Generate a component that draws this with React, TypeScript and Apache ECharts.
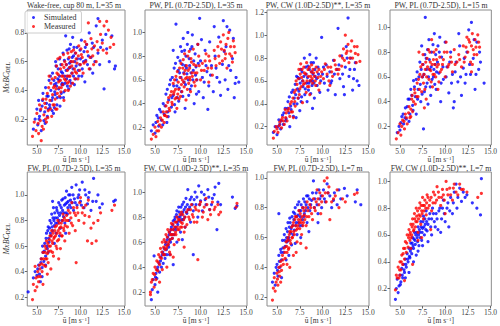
import React, { useEffect, useRef } from "react";
import * as echarts from "echarts";

const titles = [
  "Wake-free, cup 80 m, L=35 m",
  "PW, PL (0.7D-2.5D), L=35 m",
  "PW, CW (1.0D-2.5D)**, L=35 m",
  "PW, PL (0.7D-2.5D), L=15 m",
  "FW, PL (0.7D-2.5D), L=35 m",
  "FW, CW (1.0D-2.5D)**, L=35 m",
  "FW, PL (0.7D-2.5D), L=7 m",
  "FW, CW (1.0D-2.5D)**, L=7 m",
];

const xTicks = [5, 7.5, 10, 12.5, 15];
const yTicks = [
  [0.2, 0.4, 0.6, 0.8],
  [0.2, 0.4, 0.6, 0.8, 1.0],
  [0.2, 0.4, 0.6, 0.8, 1.0, 1.2],
  [0.2, 0.4, 0.6, 0.8, 1.0],
  [0.2, 0.4, 0.6, 0.8, 1.0],
  [0.2, 0.4, 0.6, 0.8, 1.0],
  [0.2, 0.4, 0.6, 0.8, 1.0],
  [0.2, 0.4, 0.6, 0.8, 1.0],
];
const yMin = [0.02, 0.05, 0.04, 0.05, 0.13, 0.09, 0.14, 0.07];
const yMax = [0.96, 1.19, 1.22, 1.14, 1.18, 1.16, 1.04, 1.07];

const sim1 = [[4.6,0.13],[4.8,0.2],[5.0,0.27],[5.1,0.16],[5.2,0.33],[5.3,0.22],[5.5,0.12],[5.6,0.29],[5.7,0.38],[5.8,0.19],[5.9,0.25],[6.0,0.42],[6.1,0.31],[6.2,0.22],[6.3,0.36],[6.4,0.47],[6.5,0.28],[6.6,0.4],[6.7,0.33],[6.8,0.52],[6.9,0.24],[7.0,0.44],[7.1,0.37],[7.2,0.57],[7.3,0.3],[7.4,0.48],[7.5,0.41],[7.6,0.62],[7.7,0.35],[7.8,0.53],[7.9,0.45],[8.0,0.66],[8.1,0.39],[8.2,0.5],[8.3,0.78],[8.4,0.58],[8.5,0.43],[8.6,0.55],[8.7,0.69],[8.8,0.47],[8.9,0.6],[9.0,0.52],[9.1,0.77],[9.2,0.64],[9.3,0.44],[9.5,0.57],[9.6,0.7],[9.8,0.5],[10.0,0.62],[10.1,0.75],[10.2,0.55],[10.4,0.67],[10.5,0.46],[10.7,0.72],[10.8,0.58],[11.0,0.8],[11.2,0.63],[11.4,0.52],[11.5,0.7],[11.8,0.85],[12.0,0.66],[12.2,0.58],[12.5,0.75],[12.7,0.41],[13.0,0.69],[13.3,0.6],[13.6,0.78],[13.9,0.55],[14.0,0.57],[12.0,0.9],[6.8,0.35],[7.2,0.45],[7.6,0.5],[8.0,0.44],[8.4,0.48],[8.8,0.56],[9.2,0.5],[7.0,0.28],[7.8,0.38],[8.6,0.62],[9.4,0.66],[6.3,0.27],[5.4,0.26],[9.9,0.58],[10.6,0.61],
[5.25,0.2],[5.65,0.33],[5.95,0.17],[6.15,0.36],[6.45,0.3],[6.55,0.5],[6.75,0.26],[6.95,0.47],[7.05,0.39],[7.15,0.6],[7.25,0.43],[7.35,0.35],[7.45,0.55],[7.55,0.47],[7.65,0.29],[7.75,0.58],[7.85,0.44],[7.95,0.52],[8.05,0.35],[8.15,0.61],[8.25,0.45],[8.35,0.54],[8.45,0.68],[8.55,0.5],[8.65,0.41],[8.75,0.59],[8.85,0.72],[8.95,0.45],[9.05,0.63],[9.15,0.55],[9.25,0.7],[9.35,0.6],[9.45,0.48],[9.65,0.62],[9.75,0.54],[9.95,0.68],[10.15,0.5],[10.35,0.6],[10.55,0.7],[10.9,0.64],[11.1,0.55],[11.35,0.73],[11.65,0.6],[12.3,0.7],[12.9,0.79]];
const meas1 = [[4.5,0.08],[4.7,0.18],[4.9,0.12],[5.0,0.24],[5.2,0.1],[5.3,0.3],[5.4,0.19],[5.6,0.15],[5.7,0.34],[5.8,0.23],[6.0,0.28],[6.1,0.18],[6.2,0.38],[6.3,0.26],[6.5,0.33],[6.6,0.45],[6.7,0.22],[6.8,0.37],[7.0,0.3],[7.1,0.49],[7.2,0.41],[7.3,0.27],[7.5,0.46],[7.6,0.36],[7.7,0.55],[7.8,0.42],[8.0,0.5],[8.1,0.33],[8.2,0.6],[8.3,0.47],[8.5,0.54],[8.6,0.4],[8.7,0.63],[8.8,0.5],[9.0,0.57],[9.1,0.45],[9.2,0.68],[9.4,0.53],[9.5,0.62],[9.7,0.48],[9.8,0.71],[10.0,0.58],[10.1,0.65],[10.3,0.52],[10.5,0.74],[10.6,0.6],[10.8,0.67],[11.0,0.55],[11.2,0.76],[11.4,0.64],[11.6,0.71],[11.8,0.6],[12.0,0.68],[12.3,0.79],[12.5,0.73],[12.7,0.85],[13.0,0.66],[13.2,0.82],[13.5,0.77],[13.8,0.72],[12.2,0.88],[10.9,0.87],[7.4,0.62],[6.4,0.5],[5.5,0.05],[6.9,0.42],[7.3,0.52],[7.7,0.47],[8.1,0.56],[8.5,0.45],[8.9,0.6],[9.3,0.55],[7.1,0.34],[7.9,0.58],[8.7,0.5],[9.6,0.59],[6.0,0.2],[5.9,0.31],[10.2,0.63],[11.3,0.69],
[5.15,0.17],[5.45,0.27],[5.75,0.13],[6.05,0.34],[6.25,0.21],[6.35,0.42],[6.55,0.27],[6.75,0.48],[6.85,0.3],[7.05,0.43],[7.15,0.27],[7.25,0.57],[7.35,0.38],[7.45,0.51],[7.55,0.42],[7.65,0.63],[7.75,0.39],[7.85,0.5],[7.95,0.44],[8.05,0.65],[8.15,0.48],[8.25,0.4],[8.35,0.58],[8.45,0.5],[8.55,0.66],[8.65,0.46],[8.75,0.56],[8.85,0.43],[8.95,0.67],[9.05,0.52],[9.15,0.6],[9.35,0.48],[9.45,0.66],[9.55,0.52],[9.75,0.64],[9.9,0.54],[10.05,0.69],[10.4,0.59],[10.7,0.72],[11.1,0.63],[11.5,0.58],[11.9,0.74],[12.6,0.68],[13.4,0.7],[13.0,0.88]];

const sim2 = [[4.6,0.17],[4.8,0.22],[5.0,0.15],[5.2,0.3],[5.4,0.21],[5.5,0.35],[5.7,0.26],[5.9,0.4],[6.0,0.31],[6.2,0.48],[6.3,0.24],[6.5,0.43],[6.6,0.56],[6.8,0.37],[6.9,0.62],[7.0,0.47],[7.1,0.7],[7.2,0.33],[7.3,1.07],[7.4,0.55],[7.5,0.79],[7.6,0.42],[7.7,0.66],[7.8,0.88],[7.9,0.5],[8.0,0.73],[8.1,0.95],[8.2,0.58],[8.3,0.36],[8.4,0.8],[8.5,0.65],[8.6,1.0],[8.7,0.47],[8.8,0.72],[8.9,0.86],[9.0,0.55],[9.1,0.98],[9.2,0.68],[9.3,0.4],[9.4,0.82],[9.6,0.6],[9.7,0.9],[9.8,0.5],[10.0,0.76],[10.2,0.62],[10.3,0.45],[10.5,0.85],[10.7,0.67],[10.9,0.55],[11.0,0.92],[11.2,0.72],[11.4,0.5],[11.6,0.8],[11.8,0.62],[12.0,0.96],[12.2,0.47],[12.4,0.73],[12.5,1.1],[12.7,0.6],[12.8,0.88],[13.0,0.52],[13.2,1.02],[13.3,0.68],[13.5,0.78],[13.7,0.45],[13.9,0.62],[14.2,0.58],[12.9,1.05],[11.5,1.05],[9.9,1.12],[7.0,0.85],[8.3,0.72],[9.5,0.71],[6.4,0.33],[10.8,0.35],
[5.1,0.24],[5.35,0.28],[5.65,0.33],[5.85,0.22],[6.1,0.38],[6.35,0.52],[6.45,0.29],[6.7,0.6],[6.85,0.45],[7.05,0.55],[7.15,0.39],[7.25,0.74],[7.35,0.6],[7.45,0.45],[7.55,0.68],[7.65,0.53],[7.75,0.76],[7.85,0.62],[7.95,0.84],[8.05,0.46],[8.15,0.66],[8.25,0.85],[8.35,0.56],[8.45,0.7],[8.55,0.9],[8.65,0.6],[8.75,0.78],[8.85,0.52],[8.95,0.66],[9.05,0.88],[9.15,0.6],[9.25,0.76],[9.45,0.64],[9.55,0.48],[9.75,0.74],[10.1,0.94],[10.4,0.58],[10.6,0.72],[11.1,0.64],[11.7,0.7],[12.1,0.58],[12.6,0.84],[13.1,0.72],[13.6,0.95],[13.8,0.57]];
const meas2 = [[4.6,0.1],[4.8,0.14],[5.0,0.2],[5.1,0.12],[5.3,0.25],[5.4,0.17],[5.6,0.28],[5.7,0.2],[5.9,0.33],[6.0,0.24],[6.2,0.38],[6.3,0.29],[6.5,0.45],[6.6,0.34],[6.8,0.5],[6.9,0.39],[7.0,0.57],[7.2,0.44],[7.3,0.63],[7.4,0.36],[7.6,0.52],[7.7,0.7],[7.8,0.46],[8.0,0.6],[8.1,0.77],[8.2,0.54],[8.3,0.68],[8.4,0.43],[8.5,0.62],[8.6,0.8],[8.7,0.57],[8.8,0.7],[8.9,0.5],[9.0,0.75],[9.1,0.63],[9.2,0.86],[9.3,0.58],[9.5,0.72],[9.6,0.66],[9.8,0.8],[10.0,0.6],[10.2,0.74],[10.4,0.68],[10.6,0.82],[10.8,0.7],[11.0,0.76],[11.3,0.64],[11.5,0.85],[11.7,0.72],[12.0,0.8],[12.2,0.92],[12.4,0.76],[12.5,0.98],[12.6,0.85],[12.8,0.9],[12.9,0.7],[13.0,0.95],[13.2,0.82],[13.3,0.88],[13.5,0.75],[13.6,0.93],[13.8,0.83],[12.7,0.78],[13.1,1.0],[7.5,0.48],[8.2,0.65],[7.9,0.56],[8.8,0.62],[9.4,0.55],[6.1,0.3],[7.1,0.5],[9.7,0.9],[10.9,0.58],
[5.2,0.17],[5.5,0.22],[5.8,0.26],[6.05,0.3],[6.25,0.33],[6.4,0.41],[6.55,0.36],[6.7,0.47],[6.85,0.41],[7.05,0.48],[7.15,0.6],[7.25,0.52],[7.35,0.45],[7.45,0.67],[7.55,0.58],[7.65,0.44],[7.75,0.62],[7.85,0.74],[7.95,0.5],[8.05,0.7],[8.15,0.58],[8.25,0.82],[8.35,0.61],[8.45,0.72],[8.55,0.52],[8.65,0.68],[8.75,0.84],[8.85,0.6],[8.95,0.78],[9.05,0.66],[9.25,0.73],[9.35,0.66],[9.55,0.6],[9.85,0.72],[10.1,0.68],[10.5,0.76],[10.9,0.8],[11.2,0.7],[11.6,0.78],[11.9,0.88],[12.1,0.74],[12.3,0.86],[12.75,0.82],[13.4,0.8],[13.7,0.88]];

const sim3 = [[4.6,0.15],[4.8,0.2],[5.0,0.13],[5.2,0.26],[5.4,0.18],[5.6,0.3],[5.7,0.22],[5.9,0.36],[6.0,0.27],[6.2,0.42],[6.3,0.32],[6.5,0.38],[6.6,0.5],[6.8,0.29],[6.9,0.45],[7.0,0.57],[7.2,0.4],[7.3,0.63],[7.4,0.51],[7.5,0.34],[7.6,0.7],[7.7,0.46],[7.8,0.6],[8.0,0.8],[8.1,0.53],[8.2,0.66],[8.3,0.42],[8.4,0.73],[8.5,0.58],[8.6,0.83],[8.7,0.49],[8.8,0.68],[8.9,0.6],[9.0,0.76],[9.1,0.45],[9.2,0.64],[9.4,0.56],[9.5,0.72],[9.7,0.5],[9.9,0.98],[10.0,0.66],[10.2,0.58],[10.4,0.74],[10.6,0.52],[10.8,0.68],[11.0,0.6],[11.2,0.78],[11.4,0.48],[11.6,0.7],[11.7,1.06],[11.9,0.62],[12.1,0.82],[12.3,0.55],[12.5,0.72],[12.8,1.15],[12.9,0.64],[13.1,0.8],[13.3,0.52],[13.5,0.7],[13.8,0.6],[14.0,0.56],[12.6,0.9],[7.1,0.28],[8.9,0.36],[5.3,0.22],[6.4,0.2],[9.3,0.8],
[5.1,0.2],[5.45,0.25],[5.75,0.32],[5.95,0.25],[6.15,0.36],[6.35,0.46],[6.55,0.35],[6.75,0.52],[6.85,0.4],[7.05,0.48],[7.15,0.64],[7.25,0.53],[7.35,0.45],[7.45,0.62],[7.55,0.58],[7.65,0.42],[7.75,0.68],[7.85,0.55],[7.95,0.64],[8.05,0.48],[8.15,0.72],[8.25,0.58],[8.35,0.63],[8.45,0.52],[8.55,0.7],[8.65,0.6],[8.75,0.76],[8.85,0.56],[8.95,0.66],[9.05,0.58],[9.15,0.7],[9.35,0.62],[9.55,0.66],[9.8,0.6],[10.1,0.72],[10.5,0.64],[10.9,0.58],[11.3,0.66],[11.8,0.74],[12.2,0.66],[12.7,0.8],[13.0,0.7],[13.4,0.62],[13.6,0.76],[12.4,0.48]];
const meas3 = [[4.6,0.1],[4.7,0.16],[4.9,0.2],[5.1,0.15],[5.3,0.24],[5.5,0.19],[5.6,0.28],[5.8,0.22],[6.0,0.32],[6.1,0.25],[6.3,0.36],[6.4,0.29],[6.6,0.42],[6.7,0.33],[6.9,0.5],[7.0,0.38],[7.1,0.6],[7.3,0.45],[7.4,0.7],[7.5,0.53],[7.7,0.63],[7.8,0.41],[7.9,0.57],[8.0,0.67],[8.2,0.5],[8.3,0.6],[8.4,0.7],[8.5,0.55],[8.7,0.64],[8.8,0.74],[8.9,0.58],[9.0,0.67],[9.2,0.6],[9.3,0.72],[9.5,0.63],[9.7,0.58],[9.9,0.68],[10.1,0.62],[10.3,0.75],[10.5,0.66],[10.7,0.6],[10.9,0.72],[11.1,0.64],[11.3,0.78],[11.5,0.7],[11.7,0.66],[11.9,0.82],[12.1,0.73],[12.3,0.88],[12.4,0.78],[12.5,1.0],[12.6,0.84],[12.8,0.92],[12.9,0.76],[13.1,0.86],[13.3,0.8],[13.5,0.9],[13.7,0.76],[13.9,0.83],[14.1,0.77],[7.6,0.75],[8.6,0.48],[9.6,0.52],[6.8,0.28],[5.9,0.35],[10.8,0.56],
[5.0,0.18],[5.25,0.21],[5.45,0.26],[5.7,0.25],[5.95,0.28],[6.2,0.34],[6.45,0.4],[6.55,0.33],[6.75,0.45],[6.95,0.42],[7.05,0.52],[7.2,0.57],[7.35,0.62],[7.45,0.48],[7.55,0.66],[7.65,0.55],[7.75,0.7],[7.85,0.6],[7.95,0.72],[8.05,0.58],[8.15,0.66],[8.25,0.76],[8.35,0.55],[8.45,0.64],[8.55,0.72],[8.65,0.6],[8.75,0.68],[8.85,0.62],[8.95,0.7],[9.1,0.64],[9.25,0.56],[9.4,0.68],[9.6,0.7],[9.8,0.64],[10.2,0.7],[10.6,0.72],[11.0,0.68],[11.4,0.74],[11.8,0.7],[12.2,0.8],[12.7,0.86],[13.0,0.8],[13.2,0.95],[13.6,0.84],[13.8,0.9]];

const sim4 = [[4.7,0.15],[4.9,0.2],[5.0,0.17],[5.2,0.28],[5.4,0.22],[5.6,0.35],[5.7,0.26],[5.9,0.42],[6.1,0.3],[6.2,0.5],[6.4,0.37],[6.5,0.57],[6.7,0.44],[6.8,0.3],[6.9,0.64],[7.0,0.5],[7.2,0.72],[7.3,0.4],[7.4,0.85],[7.5,0.6],[7.7,0.48],[7.8,1.08],[7.9,0.75],[8.0,0.55],[8.2,0.9],[8.3,0.66],[8.4,0.45],[8.5,0.8],[8.7,0.6],[8.8,0.95],[8.9,0.7],[9.0,0.5],[9.2,0.85],[9.3,0.63],[9.5,0.4],[9.6,0.76],[9.8,0.58],[10.0,0.88],[10.2,0.68],[10.4,0.47],[10.6,0.8],[10.8,0.62],[11.0,0.4],[11.2,0.72],[11.4,0.56],[11.6,0.85],[11.8,0.45],[12.0,0.67],[12.2,0.55],[12.4,0.8],[12.6,0.98],[12.8,0.62],[12.9,1.04],[13.1,0.75],[13.3,0.5],[13.5,0.88],[13.7,0.66],[13.9,0.72],[14.3,0.55],[7.6,0.18],[9.4,0.92],[10.9,0.35],[6.0,0.24],[8.1,0.38],[11.5,0.95],
[5.1,0.23],[5.35,0.3],[5.55,0.27],[5.8,0.36],[6.05,0.42],[6.3,0.45],[6.45,0.33],[6.6,0.52],[6.8,0.58],[6.95,0.42],[7.1,0.6],[7.25,0.54],[7.35,0.66],[7.45,0.46],[7.55,0.7],[7.65,0.62],[7.75,0.78],[7.85,0.52],[7.95,0.66],[8.05,0.82],[8.15,0.6],[8.25,0.74],[8.35,0.52],[8.45,0.68],[8.55,0.58],[8.65,0.86],[8.75,0.66],[8.85,0.54],[8.95,0.78],[9.05,0.64],[9.15,0.72],[9.35,0.8],[9.55,0.55],[9.75,0.68],[10.1,0.6],[10.5,0.72],[10.7,0.55],[11.1,0.64],[11.7,0.6],[12.1,0.75],[12.3,0.62],[12.7,0.7],[13.2,0.9],[13.4,0.62],[13.8,0.8]];
const meas4 = [[4.6,0.1],[4.8,0.15],[5.0,0.22],[5.1,0.13],[5.3,0.25],[5.5,0.18],[5.6,0.3],[5.8,0.22],[6.0,0.36],[6.1,0.27],[6.3,0.42],[6.4,0.32],[6.6,0.5],[6.7,0.38],[6.9,0.55],[7.0,0.44],[7.1,0.8],[7.2,0.62],[7.4,0.48],[7.5,0.7],[7.6,0.55],[7.8,0.66],[7.9,0.42],[8.0,0.75],[8.2,0.58],[8.3,0.8],[8.4,0.65],[8.6,0.52],[8.7,0.74],[8.8,0.62],[9.0,0.82],[9.1,0.68],[9.3,0.56],[9.4,0.76],[9.6,0.66],[9.8,0.74],[10.0,0.6],[10.2,0.8],[10.4,0.7],[10.6,0.76],[10.8,0.64],[11.0,0.82],[11.3,0.72],[11.5,0.78],[11.8,0.68],[12.0,0.85],[12.2,0.76],[12.4,0.92],[12.5,0.8],[12.7,0.88],[12.8,0.72],[13.0,0.95],[13.1,0.82],[13.3,0.9],[13.5,0.78],[13.6,0.94],[13.8,0.84],[7.7,0.35],[8.5,0.9],[9.2,0.5],[6.2,0.28],[10.1,0.88],[12.9,0.64],
[5.2,0.2],[5.45,0.24],[5.7,0.27],[5.95,0.31],[6.2,0.34],[6.35,0.45],[6.5,0.4],[6.65,0.47],[6.85,0.44],[7.05,0.58],[7.15,0.5],[7.3,0.68],[7.45,0.6],[7.55,0.78],[7.65,0.62],[7.75,0.5],[7.85,0.72],[7.95,0.6],[8.05,0.68],[8.15,0.82],[8.25,0.66],[8.35,0.72],[8.45,0.56],[8.55,0.7],[8.65,0.62],[8.75,0.8],[8.85,0.7],[8.95,0.6],[9.05,0.74],[9.25,0.7],[9.45,0.64],[9.7,0.7],[9.9,0.8],[10.3,0.68],[10.7,0.72],[11.1,0.7],[11.6,0.74],[12.1,0.72],[12.3,0.84],[12.6,0.9],[12.9,0.85],[13.2,0.78],[13.4,0.84],[13.7,0.88],[13.0,0.7]];

const sim5 = [[4.0,0.24],[4.6,0.35],[4.8,0.4],[5.0,0.37],[5.2,0.45],[5.3,0.38],[5.5,0.5],[5.6,0.43],[5.7,0.55],[5.8,0.48],[5.9,0.62],[6.0,0.52],[6.1,0.7],[6.2,0.58],[6.3,0.75],[6.4,0.63],[6.5,0.8],[6.6,0.68],[6.7,0.85],[6.8,0.72],[6.9,0.9],[7.0,0.76],[7.1,0.82],[7.2,0.7],[7.3,0.88],[7.4,0.78],[7.5,0.94],[7.6,0.84],[7.7,0.74],[7.8,0.9],[7.9,0.8],[8.0,0.97],[8.1,0.86],[8.2,0.78],[8.3,0.93],[8.4,1.03],[8.5,0.85],[8.6,0.95],[8.7,0.8],[8.8,1.0],[8.9,0.9],[9.0,1.06],[9.2,0.88],[9.3,0.97],[9.5,1.08],[9.6,0.92],[9.8,1.0],[10.0,0.95],[10.2,1.1],[10.4,0.9],[10.6,1.0],[10.8,0.93],[11.0,1.02],[11.2,0.88],[11.5,1.13],[11.8,0.95],[12.2,0.9],[12.5,0.93],[14.0,0.96],[13.8,0.95],[6.3,0.55],[7.0,0.62],[7.6,0.68],[5.4,0.32],[6.8,0.95],[8.3,0.7],
[5.1,0.42],[5.45,0.47],[5.65,0.6],[5.85,0.56],[6.05,0.66],[6.15,0.6],[6.25,0.72],[6.35,0.66],[6.45,0.74],[6.55,0.7],[6.65,0.78],[6.75,0.75],[6.85,0.82],[6.95,0.8],[7.05,0.86],[7.15,0.78],[7.25,0.9],[7.35,0.82],[7.45,0.86],[7.55,0.8],[7.65,0.92],[7.75,0.86],[7.85,0.96],[7.95,0.88],[8.05,0.83],[8.15,0.92],[8.25,0.98],[8.35,0.86],[8.45,0.94],[8.55,0.9],[8.65,1.0],[8.75,0.92],[8.85,0.96],[9.05,0.94],[9.15,1.0],[9.4,0.94],[9.7,0.98],[9.9,1.04],[10.1,0.92],[10.5,1.04],[10.9,0.98],[11.4,0.95],[12.0,1.0],[6.0,0.45],[5.6,0.36]];
const meas5 = [[3.5,0.24],[4.5,0.18],[4.6,0.3],[4.8,0.25],[4.9,0.35],[5.0,0.28],[5.1,0.4],[5.2,0.32],[5.3,0.45],[5.4,0.36],[5.5,0.5],[5.6,0.4],[5.7,0.55],[5.8,0.45],[5.9,0.6],[6.0,0.5],[6.1,0.64],[6.2,0.54],[6.3,0.47],[6.4,0.6],[6.5,0.68],[6.6,0.56],[6.7,0.72],[6.8,0.62],[6.9,0.52],[7.0,0.67],[7.1,0.75],[7.2,0.6],[7.3,0.7],[7.4,0.8],[7.5,0.65],[7.6,0.74],[7.7,0.58],[7.8,0.78],[7.9,0.68],[8.0,0.85],[8.1,0.72],[8.2,0.64],[8.3,0.8],[8.5,0.75],[8.6,0.88],[8.7,0.7],[8.9,0.82],[9.0,0.94],[9.1,0.76],[9.3,0.86],[9.4,0.72],[9.6,0.9],[9.8,0.8],[10.0,0.98],[10.2,0.86],[10.4,0.78],[10.6,0.92],[10.8,0.64],[11.0,0.83],[11.3,0.62],[11.5,0.78],[12.0,0.8],[13.6,0.88],[13.9,0.92],[9.5,0.47],[5.7,0.3],[6.6,0.42],[7.5,0.5],[4.8,0.44],[6.2,0.38],
[5.15,0.36],[5.35,0.42],[5.55,0.46],[5.75,0.5],[5.95,0.55],[6.05,0.58],[6.15,0.5],[6.25,0.62],[6.35,0.56],[6.45,0.65],[6.55,0.6],[6.65,0.68],[6.75,0.64],[6.85,0.7],[6.95,0.66],[7.05,0.72],[7.15,0.68],[7.25,0.76],[7.35,0.64],[7.45,0.72],[7.55,0.78],[7.65,0.7],[7.75,0.75],[7.85,0.68],[7.95,0.8],[8.05,0.74],[8.15,0.82],[8.25,0.76],[8.4,0.84],[8.55,0.8],[8.8,0.86],[8.95,0.78],[9.2,0.9],[9.45,0.84],[9.7,0.86],[9.9,0.94],[10.3,0.9],[10.5,0.84],[10.9,0.96],[11.2,0.74],[11.8,0.64],[12.3,0.86],[6.0,0.44],[6.8,0.55],[7.3,0.58]];

const sim6 = [[4.6,0.14],[4.7,0.22],[4.8,0.3],[4.9,0.49],[5.0,0.26],[5.1,0.35],[5.2,0.31],[5.3,0.4],[5.5,0.36],[5.6,0.45],[5.7,0.4],[5.8,0.5],[5.9,0.43],[6.0,0.55],[6.1,0.47],[6.2,0.6],[6.3,0.5],[6.4,0.64],[6.5,0.56],[6.6,0.68],[6.7,0.6],[6.8,0.72],[6.9,0.63],[7.0,0.77],[7.1,0.66],[7.2,0.8],[7.3,0.7],[7.4,0.85],[7.5,0.74],[7.6,0.88],[7.7,0.77],[7.8,0.68],[7.9,0.82],[8.0,0.9],[8.1,0.78],[8.2,0.86],[8.3,0.72],[8.4,0.95],[8.5,0.83],[8.6,1.02],[8.8,0.88],[8.9,0.76],[9.0,0.96],[9.2,0.85],[9.4,1.0],[9.5,0.9],[9.7,0.8],[9.8,1.05],[10.0,0.93],[10.2,0.85],[10.4,0.98],[10.6,0.9],[10.8,1.02],[11.0,0.86],[11.3,0.95],[11.6,1.04],[11.8,0.7],[12.0,1.07],[12.2,0.9],[13.5,0.96],[14.0,0.89],[13.8,0.87],[7.0,0.42],[8.0,0.62],[5.3,0.2],[9.2,0.5],
[5.05,0.32],[5.25,0.38],[5.45,0.43],[5.65,0.48],[5.85,0.52],[6.05,0.5],[6.15,0.58],[6.25,0.54],[6.35,0.62],[6.45,0.58],[6.55,0.66],[6.65,0.62],[6.75,0.7],[6.85,0.66],[6.95,0.74],[7.05,0.7],[7.15,0.78],[7.25,0.72],[7.35,0.82],[7.45,0.76],[7.55,0.8],[7.65,0.84],[7.75,0.8],[7.85,0.88],[7.95,0.78],[8.05,0.84],[8.15,0.92],[8.25,0.8],[8.35,0.88],[8.45,0.84],[8.55,0.9],[8.7,0.86],[8.85,0.94],[9.1,0.9],[9.3,0.94],[9.6,0.96],[9.9,0.9],[10.1,1.0],[10.5,0.94],[10.9,0.96],[11.2,0.9],[11.5,0.98],[11.9,0.92],[6.6,0.5],[7.4,0.6]];
const meas6 = [[3.5,0.24],[4.5,0.2],[4.6,0.28],[4.8,0.35],[4.9,0.24],[5.0,0.4],[5.1,0.3],[5.2,0.45],[5.3,0.37],[5.4,0.5],[5.5,0.42],[5.6,0.55],[5.7,0.47],[5.8,0.6],[5.9,0.5],[6.0,0.62],[6.1,0.54],[6.2,0.66],[6.3,0.57],[6.4,0.7],[6.5,0.6],[6.6,0.52],[6.7,0.66],[6.8,0.75],[6.9,0.63],[7.0,0.7],[7.1,0.58],[7.2,0.76],[7.3,0.66],[7.4,0.8],[7.5,0.7],[7.6,0.62],[7.7,0.78],[7.8,0.72],[7.9,0.84],[8.0,0.75],[8.2,0.68],[8.3,0.8],[8.5,0.74],[8.6,0.86],[8.8,0.78],[9.0,0.9],[9.2,0.8],[9.4,0.88],[9.6,0.76],[9.8,0.85],[10.0,0.92],[10.2,0.8],[10.4,0.88],[10.6,0.95],[10.8,0.78],[11.0,0.86],[11.3,0.92],[11.6,0.88],[12.0,0.82],[14.0,0.91],[13.9,0.88],[9.7,0.46],[5.5,0.28],[6.3,0.4],[7.0,0.48],[4.5,0.18],[8.2,0.56],
[4.7,0.3],[4.95,0.34],[5.15,0.38],[5.35,0.44],[5.55,0.48],[5.75,0.52],[5.95,0.56],[6.05,0.5],[6.15,0.6],[6.25,0.55],[6.35,0.64],[6.45,0.58],[6.55,0.68],[6.65,0.62],[6.75,0.7],[6.85,0.66],[6.95,0.74],[7.05,0.66],[7.15,0.72],[7.25,0.68],[7.35,0.76],[7.45,0.72],[7.55,0.78],[7.65,0.7],[7.75,0.82],[7.85,0.76],[7.95,0.72],[8.05,0.82],[8.15,0.78],[8.3,0.72],[8.45,0.84],[8.7,0.8],[8.9,0.86],[9.1,0.82],[9.3,0.76],[9.5,0.86],[9.9,0.9],[10.3,0.84],[10.7,0.9],[11.1,0.82],[11.5,0.86],[11.9,0.9],[12.2,0.84],[5.8,0.38],[6.7,0.5]];

const sim7 = [[3.5,0.24],[3.7,0.23],[4.5,0.3],[4.7,0.36],[4.8,0.28],[5.0,0.42],[5.1,0.34],[5.2,0.48],[5.3,0.4],[5.4,0.52],[5.5,0.45],[5.6,0.58],[5.7,0.5],[5.8,0.62],[5.9,0.54],[6.0,0.66],[6.1,0.57],[6.2,0.7],[6.3,0.6],[6.4,0.73],[6.5,0.63],[6.6,0.55],[6.7,0.68],[6.8,0.77],[6.9,0.65],[7.0,0.8],[7.1,0.7],[7.2,0.62],[7.3,0.75],[7.4,0.84],[7.5,0.68],[7.6,0.78],[7.8,0.72],[7.9,0.86],[8.0,0.76],[8.2,0.82],[8.3,0.7],[8.4,0.88],[8.6,0.78],[8.8,0.85],[9.0,0.98],[9.1,0.8],[9.3,0.9],[9.5,0.76],[9.7,0.86],[9.9,0.8],[10.1,0.92],[10.3,0.84],[10.5,0.96],[10.8,0.88],[11.0,0.8],[11.3,0.9],[11.6,0.82],[12.0,0.86],[12.4,0.93],[13.6,0.84],[13.8,0.92],[14.2,0.82],[5.2,0.76],[6.0,0.45],[7.0,0.56],[8.5,0.64],[9.5,0.7],
[4.9,0.4],[5.05,0.38],[5.25,0.44],[5.45,0.5],[5.65,0.53],[5.85,0.58],[6.05,0.6],[6.15,0.64],[6.25,0.58],[6.35,0.67],[6.45,0.7],[6.55,0.66],[6.65,0.74],[6.75,0.62],[6.85,0.72],[6.95,0.76],[7.05,0.68],[7.15,0.74],[7.25,0.82],[7.35,0.7],[7.45,0.78],[7.55,0.74],[7.65,0.82],[7.75,0.68],[7.85,0.8],[7.95,0.74],[8.05,0.84],[8.15,0.78],[8.25,0.88],[8.4,0.8],[8.55,0.86],[8.7,0.82],[8.9,0.9],[9.15,0.86],[9.4,0.82],[9.6,0.92],[9.85,0.88],[10.2,0.86],[10.6,0.9],[11.2,0.85],[11.8,0.92],[5.5,0.33],[6.3,0.48],[7.6,0.6],[12.7,0.88]];
const meas7 = [[4.5,0.18],[4.6,0.26],[4.7,0.33],[4.9,0.3],[5.0,0.36],[5.1,0.28],[5.2,0.4],[5.3,0.34],[5.4,0.44],[5.5,0.38],[5.6,0.48],[5.7,0.42],[5.8,0.53],[5.9,0.46],[6.0,0.57],[6.1,0.5],[6.2,0.6],[6.3,0.53],[6.4,0.64],[6.5,0.56],[6.6,0.67],[6.7,0.6],[6.8,0.7],[6.9,0.62],[7.0,0.74],[7.1,0.65],[7.2,0.57],[7.3,0.68],[7.4,0.78],[7.5,0.66],[7.6,0.72],[7.7,0.62],[7.8,0.8],[7.9,0.7],[8.0,0.75],[8.2,0.68],[8.3,0.84],[8.5,0.74],[8.7,0.8],[8.9,0.72],[9.0,0.86],[9.2,0.78],[9.4,0.92],[9.6,0.82],[9.8,0.76],[10.0,0.88],[10.2,0.98],[10.4,0.84],[10.6,0.9],[10.8,0.72],[11.0,0.84],[11.4,0.88],[11.8,0.8],[12.2,0.86],[13.5,0.89],[13.8,0.9],[8.2,0.53],[10.5,1.0],[6.4,0.4],[5.4,0.3],[7.1,0.5],
[4.8,0.24],[5.05,0.32],[5.25,0.37],[5.45,0.41],[5.65,0.45],[5.85,0.5],[6.05,0.54],[6.15,0.58],[6.25,0.52],[6.35,0.62],[6.45,0.58],[6.55,0.64],[6.65,0.6],[6.75,0.68],[6.85,0.64],[6.95,0.72],[7.05,0.68],[7.15,0.74],[7.25,0.66],[7.35,0.72],[7.45,0.7],[7.55,0.76],[7.65,0.7],[7.75,0.74],[7.85,0.68],[7.95,0.78],[8.05,0.72],[8.15,0.8],[8.25,0.74],[8.4,0.78],[8.6,0.82],[8.8,0.76],[9.1,0.8],[9.3,0.84],[9.5,0.86],[9.7,0.9],[9.9,0.84],[10.3,0.9],[10.7,0.94],[11.2,0.86],[11.6,0.92],[12.5,0.84],[6.1,0.42],[6.8,0.48],[7.6,0.56]];

const sim8 = [[4.5,0.12],[4.6,0.2],[4.7,0.27],[4.9,0.22],[5.0,0.3],[5.1,0.25],[5.2,0.35],[5.3,0.28],[5.4,0.38],[5.5,0.32],[5.6,0.42],[5.7,0.36],[5.8,0.46],[5.9,0.4],[6.0,0.5],[6.1,0.43],[6.2,0.54],[6.3,0.46],[6.4,0.58],[6.5,0.5],[6.6,0.62],[6.7,0.53],[6.8,0.45],[6.9,0.58],[7.0,0.66],[7.1,0.52],[7.2,0.62],[7.3,0.7],[7.4,0.56],[7.5,0.65],[7.6,0.74],[7.7,0.6],[7.8,0.68],[7.9,0.78],[8.0,0.63],[8.2,0.72],[8.4,0.66],[8.6,0.8],[8.8,0.7],[9.0,0.76],[9.2,0.64],[9.4,0.8],[9.6,0.72],[9.8,0.86],[10.0,0.7],[10.2,0.8],[10.4,0.66],[10.6,0.88],[10.8,0.76],[11.0,0.92],[11.3,0.8],[11.6,0.95],[11.8,0.85],[12.2,0.88],[13.5,0.8],[13.9,0.75],[14.0,1.02],[11.2,0.98],[12.0,0.92],[6.0,0.32],[7.0,0.48],[8.1,0.55],[9.5,0.62],
[4.8,0.17],[5.05,0.23],[5.25,0.3],[5.45,0.34],[5.65,0.38],[5.85,0.42],[6.05,0.44],[6.15,0.48],[6.25,0.5],[6.35,0.54],[6.45,0.52],[6.55,0.57],[6.65,0.56],[6.75,0.6],[6.85,0.62],[6.95,0.55],[7.05,0.6],[7.15,0.64],[7.25,0.58],[7.35,0.66],[7.45,0.62],[7.55,0.7],[7.65,0.66],[7.75,0.72],[7.85,0.64],[7.95,0.7],[8.1,0.68],[8.3,0.76],[8.5,0.72],[8.7,0.76],[8.9,0.66],[9.1,0.72],[9.3,0.78],[9.7,0.8],[9.9,0.76],[10.3,0.84],[10.5,0.78],[10.9,0.84],[11.4,0.88],[12.4,0.9],[13.0,0.84],[5.6,0.28],[6.5,0.4],[7.5,0.52],[8.5,0.6]];
const meas8 = [[3.5,0.24],[4.5,0.19],[4.6,0.3],[4.8,0.36],[4.9,0.28],[5.0,0.4],[5.1,0.34],[5.2,0.45],[5.3,0.38],[5.4,0.5],[5.5,0.42],[5.6,0.55],[5.7,0.47],[5.8,0.6],[5.9,0.51],[6.0,0.64],[6.1,0.56],[6.2,0.68],[6.3,0.6],[6.4,0.72],[6.5,0.63],[6.6,0.76],[6.7,0.66],[6.8,0.8],[6.9,0.7],[7.0,0.62],[7.1,0.75],[7.2,0.84],[7.3,0.68],[7.4,0.78],[7.5,0.88],[7.6,0.72],[7.7,0.82],[7.9,0.75],[8.0,0.9],[8.1,0.8],[8.3,0.86],[8.5,0.78],[8.7,0.92],[8.9,0.84],[9.1,0.96],[9.3,0.88],[9.5,0.82],[9.7,0.94],[9.9,0.86],[10.1,1.0],[10.3,0.9],[10.5,0.95],[10.8,0.86],[11.0,0.98],[11.4,0.9],[11.8,0.94],[12.4,0.92],[13.6,0.88],[14.0,0.91],[5.5,0.26],[6.4,0.38],[7.4,0.58],[8.4,0.64],[10.0,0.76],
[4.7,0.28],[4.95,0.34],[5.15,0.4],[5.35,0.46],[5.55,0.5],[5.75,0.54],[5.95,0.58],[6.05,0.6],[6.15,0.62],[6.25,0.58],[6.35,0.66],[6.45,0.68],[6.55,0.64],[6.65,0.72],[6.75,0.7],[6.85,0.74],[6.95,0.78],[7.05,0.72],[7.15,0.8],[7.25,0.74],[7.35,0.82],[7.45,0.76],[7.55,0.82],[7.65,0.78],[7.75,0.86],[7.85,0.8],[7.95,0.84],[8.1,0.88],[8.25,0.82],[8.45,0.88],[8.65,0.84],[8.85,0.9],[9.05,0.86],[9.25,0.92],[9.6,0.88],[9.8,0.9],[10.2,0.94],[10.6,0.9],[10.9,0.95],[11.2,0.92],[11.6,0.98],[12.0,0.94],[6.2,0.5],[7.0,0.56],[5.0,0.3]];

const simulated = [sim1, sim2, sim3, sim4, sim5, sim6, sim7, sim8];
const measured = [meas1, meas2, meas3, meas4, meas5, meas6, meas7, meas8];

const FONT = "Liberation Serif";
const gridLefts = [23, 145, 267, 390];
const gridTops = [10, 172];
const titleYs = [5, 168];
const GW = 102;
const GH = [135, 134];

export default function App() {
  const ref = useRef<HTMLDivElement>(null);
  useEffect(() => {
    if (!ref.current) return;
    const chart = echarts.init(ref.current, undefined, { renderer: "svg" });
    const grids: any[] = [];
    const xAxes: any[] = [];
    const yAxes: any[] = [];
    const graphics: any[] = [];
    const series: any[] = [];
    for (let i = 0; i < 8; i++) {
      const r = Math.floor(i / 4);
      const c = i % 4;
      grids.push({
        left: gridLefts[c],
        top: gridTops[r],
        width: GW,
        height: GH[r],
        show: true,
        borderColor: "#8c8c8c",
        borderWidth: 1,
        backgroundColor: "transparent",
      });
      graphics.push({
        type: "text",
        x: gridLefts[c] + GW / 2,
        y: titleYs[r],
        silent: true,
        style: {
          text: titles[i],
          font: "7.8px 'Liberation Serif'",
          fill: "#333",
          textAlign: "center",
          textVerticalAlign: "middle",
          align: "center",
          verticalAlign: "middle",
        },
      });
      xAxes.push({
        type: "value",
        gridIndex: i,
        min: 3.9,
        max: 15.1,
        name: "{n|ū [m s}{s|−1}{n|]}",
        nameLocation: "middle",
        nameGap: 8,
        nameTextStyle: {
          fontFamily: FONT,
          fontSize: 7.5,
          color: "#333",
          rich: {
            n: { fontFamily: FONT, fontSize: 7.5, color: "#333", lineHeight: 8, verticalAlign: "bottom" },
            s: { fontFamily: FONT, fontSize: 5, color: "#333", lineHeight: 8, verticalAlign: "top", padding: [0, 0, 3, 0] },
          },
        },
        axisLine: { show: false },
        axisTick: { show: true, length: 2.5, customValues: xTicks, lineStyle: { color: "#666" } },
        axisLabel: {
          customValues: xTicks,
          fontFamily: FONT,
          fontSize: 7.5,
          color: "#444",
          margin: 2,
          formatter: (v: number) => v.toFixed(1),
        },
        splitLine: { show: false },
      });
      yAxes.push({
        type: "value",
        gridIndex: i,
        min: yMin[i],
        max: yMax[i],
        name: c === 0 ? "{a|MxBC}{b|DEL}" : "",
        nameLocation: "middle",
        nameGap: 15,
        nameTextStyle: {
          fontFamily: FONT,
          color: "#333",
          rich: {
            a: { fontFamily: FONT, fontStyle: "italic", fontSize: 8, color: "#333", lineHeight: 10, verticalAlign: "middle" },
            b: { fontFamily: FONT, fontSize: 5.5, color: "#333", lineHeight: 10, verticalAlign: "bottom", padding: [4, 0, 0, 0] },
          },
        },
        axisLine: { show: false },
        axisTick: { show: true, length: 2.5, customValues: yTicks[i], lineStyle: { color: "#666" } },
        axisLabel: {
          customValues: yTicks[i],
          fontFamily: FONT,
          fontSize: 7.5,
          color: "#444",
          margin: 3,
          formatter: (v: number) => v.toFixed(1),
        },
        splitLine: { show: false },
      });
      series.push({
        type: "scatter",
        name: "Simulated",
        xAxisIndex: i,
        yAxisIndex: i,
        data: simulated[i],
        symbol: "circle",
        symbolSize: 3.2,
        itemStyle: { color: "#0000ff" },
        silent: true,
      });
      series.push({
        type: "scatter",
        name: "Measured",
        xAxisIndex: i,
        yAxisIndex: i,
        data: measured[i],
        symbol: "circle",
        symbolSize: 3.2,
        itemStyle: { color: "#ff0000" },
        silent: true,
      });
    }
    chart.setOption({
      animation: false,
      backgroundColor: "#ffffff",
      graphic: graphics,
      grid: grids,
      xAxis: xAxes,
      yAxis: yAxes,
      series,
      legend: {
        data: ["Simulated", "Measured"],
        orient: "vertical",
        left: 25,
        top: 11,
        itemWidth: 3,
        itemHeight: 3,
        itemGap: 0,
        icon: "circle",
        padding: [2, 5, 2, 7],
        borderColor: "#cccccc",
        borderWidth: 1,
        borderRadius: 2,
        backgroundColor: "rgba(255,255,255,0.8)",
        textStyle: { fontFamily: FONT, fontSize: 8, color: "#333", padding: [0, 0, 0, 4], lineHeight: 9 },
      },
    });
    return () => chart.dispose();
  }, []);
  return (
    <div
      ref={ref}
      style={{ position: "fixed", left: 0, top: 0, width: 500, height: 326 }}
    />
  );
}
